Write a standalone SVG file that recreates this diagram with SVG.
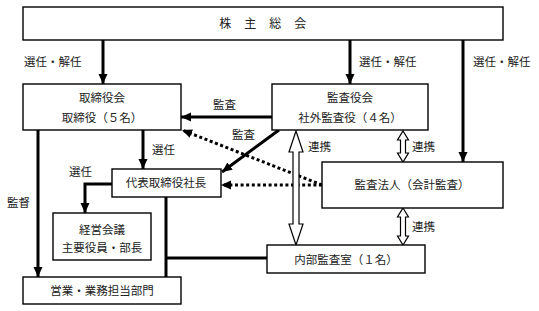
<svg xmlns="http://www.w3.org/2000/svg" width="539" height="311" viewBox="0 0 539 311">
<style>
  .box { fill: #fff; stroke: #000; stroke-width: 1.4; }
  .t { font-family: "Noto Sans CJK JP", "Noto Sans", sans-serif; font-size: 11.5px; fill: #222; }
  .c { text-anchor: middle; }
  .thick { stroke: #000; stroke-width: 3; fill: none; }
  .dot { stroke: #000; stroke-width: 3; fill: none; stroke-dasharray: 3 2.6; }
  .hollow { fill: #fff; stroke: #000; stroke-width: 1.2; stroke-linejoin: miter; }
</style>
<defs>
  <marker id="ah" markerUnits="userSpaceOnUse" markerWidth="10" markerHeight="10" refX="10" refY="5" orient="auto">
    <path d="M0,0.5 L10,5 L0,9.5 Z" fill="#000"/>
  </marker>
</defs>
<rect x="0" y="0" width="539" height="311" fill="#fff"/>

<g id="connectors">
  <line class="thick" x1="103" y1="40" x2="103" y2="84" marker-end="url(#ah)"/>
  <line class="thick" x1="350" y1="40" x2="350" y2="84" marker-end="url(#ah)"/>
  <line class="thick" x1="463" y1="40" x2="463" y2="162" marker-end="url(#ah)"/>
  <line class="thick" x1="272" y1="117" x2="181" y2="117" marker-end="url(#ah)"/>
  <line class="thick" x1="279" y1="130" x2="222" y2="172" marker-end="url(#ah)"/>
  <line class="thick" x1="143" y1="130" x2="143" y2="169" marker-end="url(#ah)"/>
  <path class="thick" d="M112,184 H85 V213" marker-end="url(#ah)"/>
  <line class="thick" x1="38" y1="130" x2="38" y2="277" marker-end="url(#ah)"/>
  <line class="thick" x1="166" y1="197" x2="166" y2="277"/>
  <line class="thick" x1="166" y1="258" x2="267" y2="258"/>
  <line class="dot" x1="322" y1="185" x2="182" y2="130" marker-end="url(#ah)"/>
  <line class="dot" x1="322" y1="185" x2="221" y2="185" marker-end="url(#ah)"/>
  <path class="hollow" d="M296,131 L303,152 L299,152 L299,224 L303,224 L296,245 L289,224 L293,224 L293,152 L289,152 Z"/>
  <path class="hollow" d="M403,131 L408.5,140 L405.5,140 L405.5,153 L408.5,153 L403,162 L397.5,153 L400.5,153 L400.5,140 L397.5,140 Z"/>
  <path class="hollow" d="M403,208 L408.5,217 L405.5,217 L405.5,236 L408.5,236 L403,245 L397.5,236 L400.5,236 L400.5,217 L397.5,217 Z"/>
  <text class="t" x="24" y="66">選任・解任</text>
  <text class="t" x="359" y="66">選任・解任</text>
  <text class="t" x="473" y="66">選任・解任</text>
  <text class="t" x="213" y="109">監査</text>
  <text class="t" x="232" y="139">監査</text>
  <text class="t" x="152" y="154">選任</text>
  <text class="t" x="69" y="176">選任</text>
  <text class="t" x="7" y="207">監督</text>
  <text class="t" x="308" y="151">連携</text>
  <text class="t" x="412" y="151">連携</text>
  <text class="t" x="412" y="231">連携</text>
</g>

<g id="shareholders">
  <rect class="box" x="23" y="7" width="480" height="33"/>
  <text class="t c" x="263" y="28" style="font-size:12px;letter-spacing:0.5px">株　主　総　会</text>
</g>
<g id="board">
  <rect class="box" x="23" y="84" width="158" height="46"/>
  <text class="t c" x="102" y="102">取締役会</text>
  <text class="t c" x="102" y="122">取締役（５名）</text>
</g>
<g id="auditors">
  <rect class="box" x="272" y="84" width="156" height="46"/>
  <text class="t c" x="350" y="102">監査役会</text>
  <text class="t c" x="350" y="122">社外監査役（４名）</text>
</g>
<g id="president">
  <rect class="box" x="112" y="169" width="109" height="28"/>
  <text class="t c" x="166" y="187">代表取締役社長</text>
</g>
<g id="audit-firm">
  <rect class="box" x="322" y="162" width="181" height="46"/>
  <text class="t c" x="412" y="189">監査法人（会計監査）</text>
</g>
<g id="management-meeting">
  <rect class="box" x="53" y="213" width="98" height="47"/>
  <text class="t c" x="102" y="234">経営会議</text>
  <text class="t c" x="102" y="252">主要役員・部長</text>
</g>
<g id="internal-audit">
  <rect class="box" x="267" y="245" width="158" height="28"/>
  <text class="t c" x="346" y="264">内部監査室（１名）</text>
</g>
<g id="business-dept">
  <rect class="box" x="23" y="277" width="158" height="27"/>
  <text class="t c" x="102" y="295">営業・業務担当部門</text>
</g>
</svg>
